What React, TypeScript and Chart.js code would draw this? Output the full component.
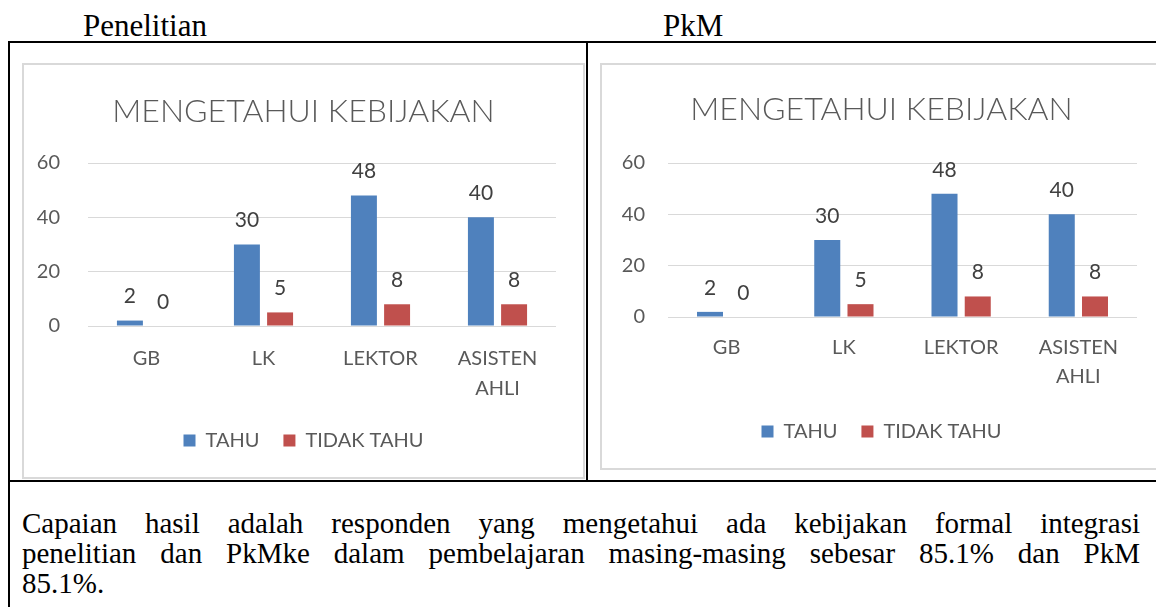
import React, { useEffect, useRef } from "react";
import { Chart, registerables } from "chart.js";

Chart.register(...registerables);

// ---- data ----
const categories: (string | string[])[] = ["GB", "LK", "LEKTOR", ["ASISTEN", "AHLI"]];
const seriesNames = ["TAHU", "TIDAK TAHU"];
const penelitianTahu = [2, 30, 48, 40];
const penelitianTidakTahu = [0, 5, 8, 8];
const pkmTahu = [2, 30, 48, 40];
const pkmTidakTahu = [0, 5, 8, 8];
const yMin = 0;
const yMax = 60;
const yStep = 20;
const chartTitle = "MENGETAHUI KEBIJAKAN";
const headerLeft = "Penelitian";
const headerRight = "PkM";
const bodyLines = [
  "Capaian hasil adalah responden yang mengetahui ada kebijakan formal integrasi",
  "penelitian dan PkMke dalam pembelajaran masing-masing sebesar 85.1% dan PkM",
  "85.1%.",
];

const BLUE = "#4F81BD";
const RED = "#C0504D";
const GREY = "#595959";
const LABEL = "#404040";
const GRID = "#D9D9D9";
const FONT = "Lato, 'Open Sans', sans-serif";
const SERIF = "'Liberation Serif', 'Times New Roman', serif";

type Layout = {
  w: number;
  h: number;
  yWidth: number;
  yPad: number;
  padR: number;
  titleTop: number;
  titleBottom: number;
  xHeight: number;
  xPad: number;
  xLine: number;
  padB: number;
  labelOffset: number;
};

const valueLabels = (offset: number) => ({
  id: "valueLabels",
  afterDatasetsDraw(chart: any) {
    const ctx = chart.ctx;
    ctx.save();
    ctx.font = `21px ${FONT}`;
    ctx.fillStyle = LABEL;
    ctx.textAlign = "center";
    ctx.textBaseline = "middle";
    chart.data.datasets.forEach((ds: any, i: number) => {
      const meta = chart.getDatasetMeta(i);
      meta.data.forEach((el: any, j: number) => {
        ctx.fillText(String(ds.data[j]), el.x, el.y - offset);
      });
    });
    ctx.restore();
  },
});

function BarChart({ tahu, tidak, L }: { tahu: number[]; tidak: number[]; L: Layout }) {
  const ref = useRef<HTMLCanvasElement | null>(null);
  useEffect(() => {
    if (!ref.current) return;
    const chart = new Chart(ref.current, {
      type: "bar",
      data: {
        labels: categories,
        datasets: [
          { label: seriesNames[0], data: tahu, backgroundColor: BLUE, yAxisID: "y" },
          { label: seriesNames[1], data: tidak, backgroundColor: RED, yAxisID: "y" },
        ],
      },
      options: {
        responsive: false,
        animation: false,
        devicePixelRatio: 1,
        datasets: { bar: { categoryPercentage: 0.567, barPercentage: 0.783 } },
        layout: { padding: { left: 0, right: 0, top: 0, bottom: L.padB } },
        plugins: {
          title: {
            display: true,
            text: chartTitle,
            color: GREY,
            font: { family: FONT, size: 32, weight: 300, lineHeight: 1.2 },
            padding: { top: L.titleTop, bottom: L.titleBottom },
          },
          legend: {
            display: true,
            position: "bottom",
            labels: {
              color: GREY,
              font: { family: FONT, size: 20 },
              boxWidth: 12,
              boxHeight: 12,
              padding: 24,
            },
          },
          tooltip: { enabled: false },
        },
        scales: {
          x: {
            grid: { display: false, drawTicks: false },
            border: { display: false },
            ticks: {
              color: GREY,
              font: { family: FONT, size: 20, lineHeight: L.xLine },
              padding: L.xPad,
              maxRotation: 0,
              autoSkip: false,
            },
            afterFit: (s: any) => {
              s.height = L.xHeight;
            },
          },
          y: {
            min: yMin,
            max: yMax,
            grid: { color: GRID, lineWidth: 1, drawTicks: false },
            border: { display: false },
            ticks: {
              stepSize: yStep,
              color: GREY,
              font: { family: FONT, size: 20 },
              padding: L.yPad,
            },
            afterFit: (s: any) => {
              s.width = L.yWidth;
            },
          },
          ySpacer: {
            type: "linear",
            position: "right",
            min: yMin,
            max: yMax,
            grid: { display: false, drawTicks: false },
            border: { display: false },
            ticks: { display: false },
            afterFit: (s: any) => {
              s.width = L.padR;
            },
          },
        },
      },
      plugins: [valueLabels(L.labelOffset)],
    } as any);
    return () => chart.destroy();
  }, []);
  return <canvas ref={ref} width={L.w} height={L.h} style={{ display: "block", width: L.w, height: L.h }} />;
}

const leftLayout: Layout = {
  w: 559,
  h: 412,
  yWidth: 64,
  yPad: 28,
  padR: 27,
  titleTop: 27,
  titleBottom: 32.6,
  xHeight: 80.5,
  xPad: 17.5,
  xLine: 30 / 20,
  padB: 16.5,
  labelOffset: 24,
};

const rightLayout: Layout = {
  w: 559,
  h: 403,
  yWidth: 66,
  yPad: 23,
  padR: 24,
  titleTop: 25,
  titleBottom: 34.6,
  xHeight: 80.5,
  xPad: 16.5,
  xLine: 29 / 20,
  padB: 16.5,
  labelOffset: 24,
};

const line = (style: React.CSSProperties): React.CSSProperties => ({
  position: "absolute",
  background: "#000",
  ...style,
});

const serifText: React.CSSProperties = {
  fontFamily: SERIF,
  color: "#000",
};

export default function App() {
  return (
    <div
      style={{
        position: "fixed",
        left: 0,
        top: 0,
        width: 1156,
        height: 607,
        overflow: "hidden",
        background: "#fff",
      }}
    >
      <div style={{ ...serifText, position: "absolute", left: 83, top: 10, fontSize: 31, lineHeight: "32px" }}>
        {headerLeft}
      </div>
      <div style={{ ...serifText, position: "absolute", left: 663, top: 10, fontSize: 31, lineHeight: "32px" }}>
        {headerRight}
      </div>

      {/* table borders */}
      <div style={line({ left: 8, top: 41, width: 1148, height: 2 })} />
      <div style={line({ left: 8, top: 41, width: 2, height: 566 })} />
      <div style={line({ left: 586, top: 41, width: 2, height: 441 })} />
      <div style={line({ left: 8, top: 480, width: 1148, height: 2 })} />

      {/* chart boxes */}
      <div
        style={{
          position: "absolute",
          left: 22,
          top: 63,
          width: 563,
          height: 416,
          border: `2px solid ${GRID}`,
          boxSizing: "border-box",
          background: "#fff",
        }}
      >
        <BarChart tahu={penelitianTahu} tidak={penelitianTidakTahu} L={leftLayout} />
      </div>
      <div
        style={{
          position: "absolute",
          left: 600,
          top: 63,
          width: 563,
          height: 407,
          border: `2px solid ${GRID}`,
          boxSizing: "border-box",
          background: "#fff",
        }}
      >
        <BarChart tahu={pkmTahu} tidak={pkmTidakTahu} L={rightLayout} />
      </div>

      {/* body text */}
      <div style={{ position: "absolute", left: 22, top: 508, width: 1118 }}>
        {bodyLines.map((t, i) => (
          <div
            key={i}
            style={{
              ...serifText,
              fontSize: 29,
              lineHeight: "30px",
              textAlign: i < bodyLines.length - 1 ? "justify" : "left",
              textAlignLast: i < bodyLines.length - 1 ? "justify" : "left",
              whiteSpace: "nowrap",
            }}
          >
            {t}
          </div>
        ))}
      </div>
    </div>
  );
}
